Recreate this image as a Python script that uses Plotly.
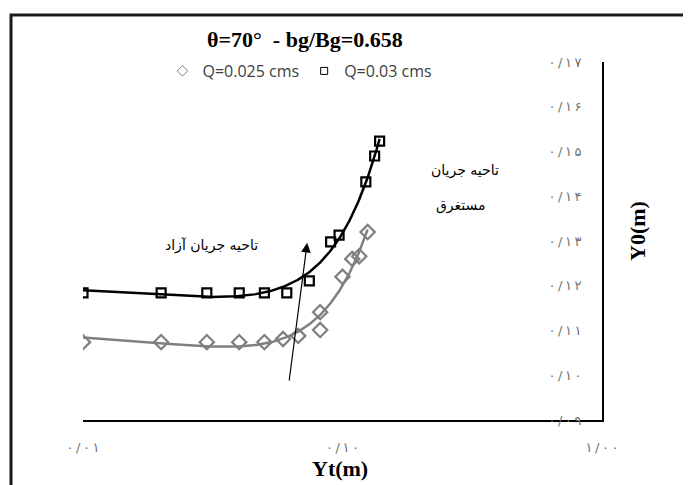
import numpy as np
import plotly.graph_objects as go

# ---- data ----
yt_q03 = [0.010, 0.020, 0.030, 0.040, 0.050, 0.061, 0.0745, 0.090, 0.097, 0.123, 0.133, 0.139]
y0_q03 = [0.1184, 0.1184, 0.1184, 0.1184, 0.1184, 0.1184, 0.1211, 0.1298, 0.1313, 0.1432, 0.1490, 0.1523]

yt_q025 = [0.010, 0.020, 0.030, 0.040, 0.050, 0.059, 0.0675, 0.082, 0.082, 0.100, 0.109, 0.116, 0.125]
y0_q025 = [0.1074, 0.1074, 0.1074, 0.1074, 0.1074, 0.1081, 0.1088, 0.1101, 0.1141, 0.1220, 0.1260, 0.1266, 0.1320]

series_names = ["Q=0.025 cms", "Q=0.03 cms"]
title_text = "θ=70°  - bg/Bg=0.658"
x_tick_vals = [0.01, 0.1, 1.0]
x_tick_text = ["۰/۰۱", "۰/۱۰", "۱/۰۰"]
y_tick_vals = [0.09, 0.10, 0.11, 0.12, 0.13, 0.14, 0.15, 0.16, 0.17]
y_tick_text = ["۰/۰۹", "۰/۱۰", "۰/۱۱", "۰/۱۲", "۰/۱۳", "۰/۱۴", "۰/۱۵", "۰/۱۶", "۰/۱۷"]
free_flow_label = "تاحیه جریان آزاد"
submerged_label_1 = "تاحیه جریان"
submerged_label_2 = "مستغرق"
arrow_tail = (0.0622, 0.0985)
arrow_head = (0.0731, 0.1296)

def spaced(s):
    return "\u2009".join(s)

def trend(xs, ys, deg=2, n=200):
    c = np.polyfit(xs, ys, deg)
    xx = np.linspace(min(xs), max(xs), n)
    return xx, np.polyval(c, xx)

GRAY = "#7f7f7f"
fig = go.Figure()

gx, gy = trend(yt_q025, y0_q025)
bx, by = trend(yt_q03, y0_q03)
fig.add_trace(go.Scatter(x=gx, y=gy, mode="lines", line=dict(color=GRAY, width=2.5),
                         showlegend=False, hoverinfo="skip"))
fig.add_trace(go.Scatter(x=bx, y=by, mode="lines", line=dict(color="#000000", width=2.5),
                         showlegend=False, hoverinfo="skip"))
fig.add_trace(go.Scatter(x=yt_q025, y=y0_q025, mode="markers", showlegend=False,
                         marker=dict(symbol="diamond-open", size=11, color=GRAY,
                                     line=dict(width=2.2, color=GRAY))))
fig.add_trace(go.Scatter(x=yt_q03, y=y0_q03, mode="markers", showlegend=False,
                         marker=dict(symbol="square-open", size=9, color="#000000",
                                     line=dict(width=2.2, color="#000000"))))
# legend entries (small symbols as in the reference)
fig.add_trace(go.Scatter(x=[None], y=[None], mode="markers", name=series_names[0],
                         marker=dict(symbol="diamond-open", size=8, color=GRAY,
                                     line=dict(width=1, color=GRAY))))
fig.add_trace(go.Scatter(x=[None], y=[None], mode="markers", name=series_names[1],
                         marker=dict(symbol="square-open", size=7, color="#000000",
                                     line=dict(width=1, color="#000000"))))

# page offset of the plot div (browser body margin)
OFF = 8
W, H = 691 - OFF, 485 - OFF
# plot area in reference pixels: x 83..602, y 62..420
L, T = 83 - OFF, 62 - OFF
R = W - (602 - OFF)
B = H - (420 - OFF)
pw, ph = W - L - R, H - T - B
def px(x): return (x - OFF - L) / pw
def py(y): return (H - B - (y - OFF)) / ph

tickfont = dict(family="DejaVu Sans", size=13, color="#707070")

def note(text, x, y, size, family="DejaVu Sans", angle=0):
    return dict(text=text, xref="paper", yref="paper", x=px(x), y=py(y),
                xanchor="center", yanchor="middle", textangle=angle, showarrow=False,
                font=dict(family=family, size=size, color="#000000"))

fig.update_layout(
    width=W, height=H,
    margin=dict(l=L, r=R, t=T, b=B, autoexpand=False),
    paper_bgcolor="white", plot_bgcolor="white",
    showlegend=True,
    legend=dict(orientation="h", x=px(300), y=py(71), xanchor="center", yanchor="middle",
                font=dict(family="Open Sans", size=16, color="#404040"),
                itemwidth=30, tracegroupgap=0, bgcolor="rgba(0,0,0,0)"),
    xaxis=dict(type="log", range=[-2, 0], tickvals=x_tick_vals,
               ticktext=[spaced(t) for t in x_tick_text],
               showgrid=False, zeroline=False, showline=True, linecolor="#000000", linewidth=2,
               ticks="", tickfont=tickfont, ticklabelstandoff=14, ticklabeloverflow="allow",
               automargin=False),
    yaxis=dict(range=[0.09, 0.17], side="right", tickvals=y_tick_vals,
               ticktext=[spaced(t) for t in y_tick_text],
               ticklabelposition="inside", showgrid=False, zeroline=False, showline=True,
               linecolor="#000000", linewidth=2, ticks="", tickfont=tickfont,
               ticklabelstandoff=20, ticklabeloverflow="allow", automargin=False),
    shapes=[dict(type="rect", xref="paper", yref="paper",
                 x0=px(11), x1=px(720), y0=py(520), y1=py(15),
                 line=dict(color="#1a1a1a", width=3), fillcolor="rgba(0,0,0,0)", layer="below")],
    annotations=[
        note("<b>" + title_text + "</b>", 305, 40, 22, "Liberation Serif"),
        note("<b>Yt(m)</b>", 340, 468, 22, "Liberation Serif"),
        note("<b>Y0(m)</b>", 637, 231, 22, "Liberation Serif", angle=-90),
        note(free_flow_label, 211, 245, 14),
        note(submerged_label_1, 465, 170, 14),
        note(submerged_label_2, 461, 205, 14),
        dict(x=np.log10(arrow_head[0]), y=arrow_head[1], ax=np.log10(arrow_tail[0]), ay=arrow_tail[1],
             xref="x", yref="y", axref="x", ayref="y", text="", showarrow=True,
             arrowhead=2, arrowsize=1.6, arrowwidth=1.2, arrowcolor="#000000"),
    ],
)

fig.write_html("out.html")
